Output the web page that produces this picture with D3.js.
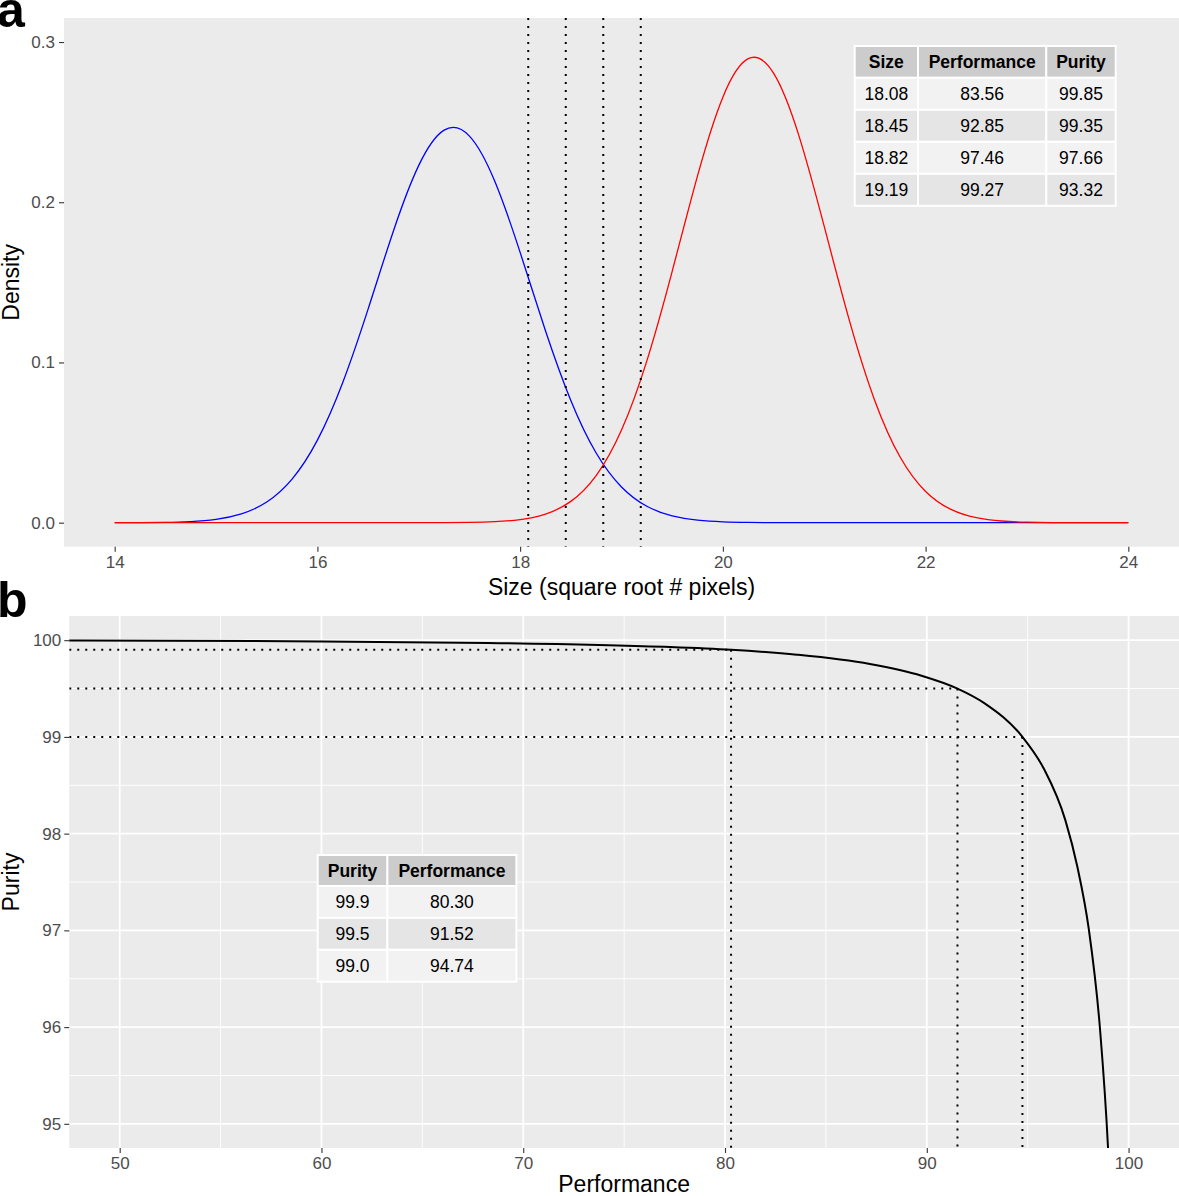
<!DOCTYPE html>
<html>
<head>
<meta charset="utf-8">
<script src="https://cdn.jsdelivr.net/npm/d3@7"></script>
<style>
  html, body { margin: 0; padding: 0; background: #ffffff; }
  svg { display: block; }
  text { font-family: "Liberation Sans", Arial, Helvetica, sans-serif; }
</style>
</head>
<body>
<svg id="chart" width="1179" height="1196"></svg>
<script>
// ---------------- DATA ----------------
// Panel a: density curves
const sizeX = [14, 14.25, 14.5, 14.75, 15, 15.25, 15.5, 15.75, 16, 16.25, 16.5, 16.75,
  17, 17.25, 17.5, 17.75, 18, 18.25, 18.5, 18.75, 19, 19.25, 19.5, 19.75, 20, 20.25,
  20.5, 20.75, 21, 21.25, 21.5, 21.75, 22, 22.25, 22.5, 22.75, 23, 23.25, 23.5, 23.75, 24];
const blueDensity = [0.00001, 0.00006, 0.00022, 0.00071, 0.00207, 0.00546, 0.01286, 0.02716,
  0.0515, 0.0875, 0.1333, 0.1821, 0.2230, 0.2450, 0.2413, 0.2131, 0.1687, 0.1198, 0.0763,
  0.0435, 0.0223, 0.01023, 0.00421, 0.00155, 0.00051, 0.00015, 0.00004, 0, 0, 0, 0, 0, 0,
  0, 0, 0, 0, 0, 0, 0, 0];
const redDensity = [0, 0, 0, 0, 0, 0, 0, 0, 0, 0, 0, 0, 0.00001, 0.00004, 0.00017, 0.00061,
  0.00191, 0.00534, 0.0133, 0.0294, 0.0578, 0.1010, 0.1569, 0.2165, 0.2656, 0.2896, 0.2806,
  0.2416, 0.1849, 0.1258, 0.0760, 0.0408, 0.0195, 0.00828, 0.00312, 0.00105, 0.00031,
  0.00008, 0.00002, 0, 0];
const sizeThresholds = [18.08, 18.45, 18.82, 19.19];
const sizeTicks = [14, 16, 18, 20, 22, 24];
const densityTicks = [0.0, 0.1, 0.2, 0.3];

// Table a
const tableAHeader = ["Size", "Performance", "Purity"];
const tableASize = ["18.08", "18.45", "18.82", "19.19"];
const tableAPerformance = ["83.56", "92.85", "97.46", "99.27"];
const tableAPurity = ["99.85", "99.35", "97.66", "93.32"];

// Panel b: purity vs performance curve
const curvePerformance = [45, 47.85, 58.32, 68.22, 76.98, 80.30, 83.56, 87.18, 89.74, 91.52,
  92.85, 94.74, 95.81, 96.87, 97.46, 98.03, 98.58, 98.99, 99.27];
const curvePurity = [99.997, 99.996, 99.989, 99.972, 99.931, 99.90, 99.85, 99.754, 99.633,
  99.50, 99.35, 99.00, 98.668, 98.137, 97.66, 97.012, 95.993, 94.72, 93.32];
const markPurity = [99.9, 99.5, 99.0];
const markPerformance = [80.30, 91.52, 94.74];
const perfTicks = [50, 60, 70, 80, 90, 100];
const perfMinor = [55, 65, 75, 85, 95];
const purityTicks = [95, 96, 97, 98, 99, 100];
const purityMinor = [95.5, 96.5, 97.5, 98.5, 99.5];

// Table b
const tableBHeader = ["Purity", "Performance"];
const tableBPurity = ["99.9", "99.5", "99.0"];
const tableBPerformance = ["80.30", "91.52", "94.74"];

// ---------------- DRAWING ----------------
const svg = d3.select("#chart");
const BG = "#EBEBEB";
const TICK_TEXT = "#4D4D4D";
const FS_TICK = 17;
const FS_TITLE = 23;

function styleAxis(g) {
  g.select(".domain").remove();
  g.selectAll(".tick line").attr("stroke", "#333333").attr("stroke-width", 1.1);
  g.selectAll(".tick text").attr("fill", TICK_TEXT).attr("font-size", FS_TICK)
    .attr("font-family", "'Liberation Sans', Arial, Helvetica, sans-serif");
}

function drawTable(g, x0, y0, colW, rowH, header, columns) {
  const nRows = columns[0].length;
  const fills = ["#F2F2F2", "#E5E5E5"];
  let xs = [x0];
  colW.forEach((w, i) => xs.push(xs[i] + w));
  header.forEach((h, j) => {
    g.append("rect").attr("x", xs[j]).attr("y", y0).attr("width", colW[j]).attr("height", rowH[0])
      .attr("fill", "#CCCCCC").attr("stroke", "#ffffff").attr("stroke-width", 2);
    g.append("text").attr("x", xs[j] + colW[j] / 2).attr("y", y0 + rowH[0] / 2 + 6)
      .attr("text-anchor", "middle").attr("font-size", 17.5).attr("font-weight", "bold")
      .attr("fill", "#000").text(h);
  });
  for (let i = 0; i < nRows; i++) {
    const yy = y0 + rowH[0] + i * rowH[1];
    columns.forEach((col, j) => {
      g.append("rect").attr("x", xs[j]).attr("y", yy).attr("width", colW[j]).attr("height", rowH[1])
        .attr("fill", fills[i % 2]).attr("stroke", "#ffffff").attr("stroke-width", 2);
      g.append("text").attr("x", xs[j] + colW[j] / 2).attr("y", yy + rowH[1] / 2 + 6)
        .attr("text-anchor", "middle").attr("font-size", 17.5).attr("fill", "#000").text(col[i]);
    });
  }
}

// ===== Panel a =====
const A = { left: 64, right: 1179, top: 18, bottom: 546.7 };
const xA = d3.scaleLinear().domain([13.5, 24.5]).range([A.left, A.right]);
const yA = d3.scaleLinear().domain([-0.015, 0.315]).range([A.bottom, A.top]);

const gA = svg.append("g");
gA.append("rect").attr("x", A.left).attr("y", A.top)
  .attr("width", A.right - A.left).attr("height", A.bottom - A.top).attr("fill", BG);

svg.append("defs").append("clipPath").attr("id", "clipA")
  .append("rect").attr("x", A.left).attr("y", A.top)
  .attr("width", A.right - A.left).attr("height", A.bottom - A.top);

const lineA = d3.line().x(d => xA(d[0])).y(d => yA(d[1])).curve(d3.curveNatural);
const blueData = sizeX.map((x, i) => [x, blueDensity[i]]);
const redData = sizeX.map((x, i) => [x, redDensity[i]]);

const plotA = gA.append("g").attr("clip-path", "url(#clipA)");
plotA.append("path").datum(blueData).attr("d", lineA).attr("fill", "none")
  .attr("stroke", "#0000FF").attr("stroke-width", 1.3);
plotA.append("path").datum(redData).attr("d", lineA).attr("fill", "none")
  .attr("stroke", "#FF0000").attr("stroke-width", 1.3);

plotA.selectAll(".vline").data(sizeThresholds).enter().append("line")
  .attr("x1", d => xA(d)).attr("x2", d => xA(d))
  .attr("y1", A.top).attr("y2", A.bottom)
  .attr("stroke", "#000").attr("stroke-width", 2).attr("stroke-dasharray", "2,6");

gA.append("g").attr("transform", `translate(0,${A.bottom})`)
  .call(d3.axisBottom(xA).tickValues(sizeTicks).tickSize(5).tickPadding(4.3).tickFormat(d3.format("d")))
  .call(styleAxis);
gA.append("g").attr("transform", `translate(${A.left},0)`)
  .call(d3.axisLeft(yA).tickValues(densityTicks).tickSize(5).tickPadding(4).tickFormat(d3.format(".1f")))
  .call(styleAxis);

gA.append("text").attr("x", (A.left + A.right) / 2).attr("y", 595)
  .attr("text-anchor", "middle").attr("font-size", FS_TITLE).attr("fill", "#000")
  .text("Size (square root # pixels)");
gA.append("text").attr("transform", `translate(19,${(A.top + A.bottom) / 2}) rotate(-90)`)
  .attr("text-anchor", "middle").attr("font-size", FS_TITLE).attr("fill", "#000").text("Density");

drawTable(gA.append("g"), 854.7, 46, [63.3, 128.3, 69.4], [31.8, 32],
  tableAHeader, [tableASize, tableAPerformance, tableAPurity]);

svg.append("text").attr("x", -3).attr("y", 27).attr("font-size", 50).attr("font-weight", "bold")
  .attr("fill", "#000").text("a");

// ===== Panel b =====
const B = { left: 69.25, right: 1179, top: 616, bottom: 1148 };
const xB = d3.scaleLinear().domain([47.5, 102.5]).range([B.left, B.right]);
const yB = d3.scaleLinear().domain([94.75, 100.25]).range([B.bottom, B.top]);

const gB = svg.append("g");
gB.append("rect").attr("x", B.left).attr("y", B.top)
  .attr("width", B.right - B.left).attr("height", B.bottom - B.top).attr("fill", BG);

svg.select("defs").append("clipPath").attr("id", "clipB")
  .append("rect").attr("x", B.left).attr("y", B.top)
  .attr("width", B.right - B.left).attr("height", B.bottom - B.top);

const plotB = gB.append("g").attr("clip-path", "url(#clipB)");
plotB.selectAll(".vminor").data(perfMinor).enter().append("line")
  .attr("x1", d => xB(d)).attr("x2", d => xB(d)).attr("y1", B.top).attr("y2", B.bottom)
  .attr("stroke", "#fff").attr("stroke-width", 0.9);
plotB.selectAll(".hminor").data(purityMinor).enter().append("line")
  .attr("y1", d => yB(d)).attr("y2", d => yB(d)).attr("x1", B.left).attr("x2", B.right)
  .attr("stroke", "#fff").attr("stroke-width", 0.9);
plotB.selectAll(".vmajor").data(perfTicks).enter().append("line")
  .attr("x1", d => xB(d)).attr("x2", d => xB(d)).attr("y1", B.top).attr("y2", B.bottom)
  .attr("stroke", "#fff").attr("stroke-width", 1.8);
plotB.selectAll(".hmajor").data(purityTicks).enter().append("line")
  .attr("y1", d => yB(d)).attr("y2", d => yB(d)).attr("x1", B.left).attr("x2", B.right)
  .attr("stroke", "#fff").attr("stroke-width", 1.8);

markPurity.forEach((p, i) => {
  plotB.append("line").attr("x1", B.left).attr("x2", xB(markPerformance[i]))
    .attr("y1", yB(p)).attr("y2", yB(p))
    .attr("stroke", "#000").attr("stroke-width", 2).attr("stroke-dasharray", "2,6");
  plotB.append("line").attr("x1", xB(markPerformance[i])).attr("x2", xB(markPerformance[i]))
    .attr("y1", yB(p)).attr("y2", B.bottom)
    .attr("stroke", "#000").attr("stroke-width", 2).attr("stroke-dasharray", "2,6");
});

const lineB = d3.line().x(d => xB(d[0])).y(d => yB(d[1])).curve(d3.curveMonotoneX);
plotB.append("path").datum(curvePerformance.map((p, i) => [p, curvePurity[i]]))
  .attr("d", lineB).attr("fill", "none").attr("stroke", "#000").attr("stroke-width", 2);

gB.append("g").attr("transform", `translate(0,${B.bottom})`)
  .call(d3.axisBottom(xB).tickValues(perfTicks).tickSize(5).tickPadding(4.3).tickFormat(d3.format("d")))
  .call(styleAxis);
gB.append("g").attr("transform", `translate(${B.left},0)`)
  .call(d3.axisLeft(yB).tickValues(purityTicks).tickSize(5).tickPadding(3).tickFormat(d3.format("d")))
  .call(styleAxis);

gB.append("text").attr("x", (B.left + B.right) / 2).attr("y", 1192)
  .attr("text-anchor", "middle").attr("font-size", FS_TITLE).attr("fill", "#000").text("Performance");
gB.append("text").attr("transform", `translate(19,${(B.top + B.bottom) / 2}) rotate(-90)`)
  .attr("text-anchor", "middle").attr("font-size", FS_TITLE).attr("fill", "#000").text("Purity");

drawTable(gB.append("g"), 317.7, 855, [69.7, 129], [31, 31.9],
  tableBHeader, [tableBPurity, tableBPerformance]);

svg.append("text").attr("x", -3).attr("y", 616.5).attr("font-size", 50).attr("font-weight", "bold")
  .attr("fill", "#000").text("b");
</script>
</body>
</html>
